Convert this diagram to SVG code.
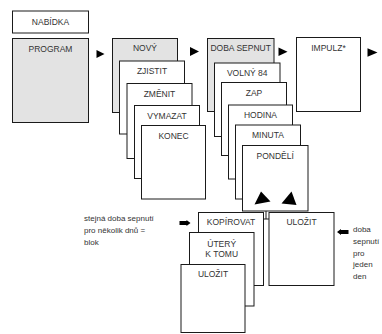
<svg xmlns="http://www.w3.org/2000/svg" width="382" height="334" viewBox="0 0 382 334">
<style>
.b{fill:#fff;stroke:#1a1a1a;stroke-width:1}
.g{fill:#e3e3e3;stroke:#1a1a1a;stroke-width:1}
.t{font-family:"Liberation Sans",Arial,sans-serif;font-size:8.5px;fill:#333;text-anchor:middle}
.s{font-family:"Liberation Sans",Arial,sans-serif;font-size:8px;fill:#333}
.a{fill:#000}
</style>
<rect width="382" height="334" fill="#fff"/>
<g id="nabidka"><rect class="b" x="12.5" y="11" width="76" height="22"/><text class="t" x="50.5" y="25">NABÍDKA</text></g>
<g id="program"><rect class="g" x="12.5" y="38.5" width="76" height="84"/><text class="t" x="50.5" y="52">PROGRAM</text></g>
<g id="novy"><rect class="g" x="112.5" y="38.5" width="65" height="74"/><text class="t" x="145" y="51">NOVÝ</text></g>
<g id="zjistit"><rect class="b" x="119.5" y="61" width="65" height="73"/><text class="t" x="152" y="74">ZJISTIT</text></g>
<g id="zmenit"><rect class="b" x="127" y="83.5" width="65" height="75"/><text class="t" x="159.5" y="96.5">ZMĚNIT</text></g>
<g id="vymazat"><rect class="b" x="134.5" y="105.5" width="65" height="73"/><text class="t" x="167" y="118.5">VYMAZAT</text></g>
<g id="konec"><rect class="b" x="141.5" y="125.5" width="64" height="73.5"/><text class="t" x="173.5" y="138.5">KONEC</text></g>
<g id="doba-sepnut"><rect class="g" x="207.5" y="38.5" width="66.5" height="73"/><text class="t" x="240.7" y="51">DOBA SEPNUT</text></g>
<g id="volny84"><rect class="b" x="214.5" y="63" width="65.5" height="73.5"/><text class="t" x="247.2" y="76">VOLNÝ 84</text></g>
<g id="zap"><rect class="b" x="221.5" y="82.5" width="65" height="73"/><text class="t" x="254" y="95.5">ZAP</text></g>
<g id="hodina"><rect class="b" x="228.5" y="105" width="64" height="74"/><text class="t" x="260.5" y="118">HODINA</text></g>
<g id="minuta"><rect class="b" x="235.5" y="125" width="65" height="74"/><text class="t" x="268" y="138">MINUTA</text></g>
<g id="pondeli"><rect class="b" x="242.5" y="145.5" width="65.5" height="65.5"/><text class="t" x="275.2" y="158.5">PONDĚLÍ</text>
<path class="a" d="M254.5 204.5 L261 191.5 L270.5 201.5 Z"/><path class="a" d="M281.5 203.5 L291.5 191.5 L296.5 205 Z"/></g>
<g id="impulz"><rect class="b" x="296.5" y="37.5" width="64" height="74"/><text class="t" x="328.5" y="50.5">IMPULZ*</text></g>
<g id="kopirovat"><rect class="b" x="198.5" y="212.5" width="65" height="73"/><text class="t" x="231" y="225">KOPÍROVAT</text></g>
<g id="utery"><rect class="b" x="189.5" y="232.5" width="64.5" height="73.5"/><text class="t" x="221.7" y="246.5">ÚTERÝ</text><text class="t" x="221.7" y="256.5">K TOMU</text></g>
<g id="ulozit-1"><rect class="b" x="181" y="264.5" width="64" height="68"/><text class="t" x="213" y="277">ULOŽIT</text></g>
<g id="ulozit-2"><rect class="b" x="269" y="212.5" width="65" height="73"/><text class="t" x="301.5" y="225">ULOŽIT</text></g>
<g id="note-blok"><text class="s" x="84" y="221">stejná doba sepnutí</text><text class="s" x="84" y="233">pro několik dnů =</text><text class="s" x="84" y="244.5">blok</text></g>
<g id="note-den"><text class="s" x="353" y="232">doba</text><text class="s" x="353" y="244">sepnutí</text><text class="s" x="353" y="255.5">pro</text><text class="s" x="353" y="267">jeden</text><text class="s" x="353" y="278.5">den</text></g>
<g id="connectors">
<path class="a" d="M96.5 50 L104.5 54 L96.5 58 Z"/>
<path class="a" d="M190 47 L199 51.5 L190 56 Z"/>
<path class="a" d="M278.5 47.5 L287.5 51.8 L278.5 56 Z"/>
<path class="a" d="M367.5 48.3 L377.5 52.5 L367.5 56.7 Z"/>
<path class="a" d="M179.5 221 L186.5 221 L186.5 220 L190.5 223 L186.5 226 L186.5 225 L179.5 225 Z"/>
<path class="a" d="M348.5 230 L341 230 L341 229 L337 232 L341 235 L341 234 L348.5 234 Z"/>
<path d="M263.5 219 H269 M266 211 V219" fill="none" stroke="#1a1a1a" stroke-width="1"/>
</g>
</svg>
